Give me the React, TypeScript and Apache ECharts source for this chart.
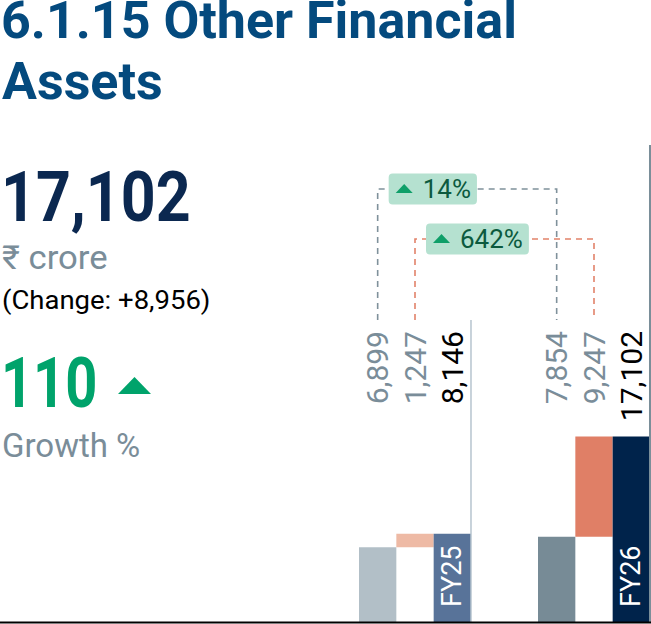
import React, { useEffect, useRef } from 'react';
import * as echarts from 'echarts';

// ---------- data ----------
const CATEGORIES = ['FY25', 'FY26'];
const PRIOR = [6899, 7854];
const CHANGE = [1247, 9247];
const TOTAL = [8146, 17102];
const PCT_LABELS = ['14%', '642%']; // growth of prior component, growth of change component
const TITLE_LINES = ['6.1.15 Other Financial', 'Assets'];
const HEADLINE_VALUE = '17,102';
const HEADLINE_UNIT = '₹ crore';
const HEADLINE_CHANGE = '(Change: +8,956)';
const GROWTH_VALUE = '110';
const GROWTH_LABEL = 'Growth %';
const Y_MAX = 44000;

// ---------- styles ----------
const PRIOR_COLORS = ['#b2bfc7', '#778b96'];
const CHANGE_COLORS = ['#eebaa5', '#e07f66'];
const TOTAL_COLORS = ['#587399', '#00234b'];
const LABEL_COLORS = ['#7a8d99', '#7a8d99', '#000000'];
const SEP_COLORS = ['#b6c4cf', '#7a8e99'];
const SEP_TOP = [320, 145];
const CONNECTOR_COLORS = ['#7f919b', '#e2826a'];
const CONNECTOR_Y = [189, 239];
const CONNECTOR_BOTTOM = 320;
const BADGE_FILL = '#b5e1d0';
const BADGE_TEXT = '#0c5a3e';
const GREEN = '#00a36b';
const NAVY = '#0b2850';
const TITLE_COLOR = '#044a7e';
const GREY = '#7a8d99';
const BAR_W = 37.33;
const LABEL_TOP = 331;
const FONT = 'Roboto, "Noto Sans", "DejaVu Sans", sans-serif';

const fmt = (v: number) => v.toLocaleString('en-US');

export default function App() {
  const ref = useRef<HTMLDivElement>(null);

  useEffect(() => {
    document.body.style.margin = '0';
    const chart = echarts.init(ref.current!, undefined, { renderer: 'svg' });

    const barData = CATEGORIES.map((_, i) => [i, PRIOR[i], CHANGE[i], TOTAL[i]]);

    const renderBars = (params: any, api: any) => {
      const i = api.value(0);
      const [cx, by] = api.coord([i, 0]);
      const p = api.value(1);
      const ch = api.value(2);
      const t = api.value(3);
      const yp = api.coord([i, p])[1];
      const yc = api.coord([i, p + ch])[1];
      const yt = api.coord([i, t])[1];
      const x0 = cx - 1.5 * BAR_W;
      const vals = [p, ch, t];
      const children: any[] = [
        { type: 'rect', shape: { x: x0, y: yp, width: BAR_W, height: by - yp }, style: { fill: PRIOR_COLORS[i] } },
        { type: 'rect', shape: { x: x0 + BAR_W, y: yc, width: BAR_W, height: yp - yc }, style: { fill: CHANGE_COLORS[i] } },
        { type: 'rect', shape: { x: x0 + 2 * BAR_W, y: yt, width: BAR_W, height: by - yt }, style: { fill: TOTAL_COLORS[i] } },
        {
          type: 'line',
          shape: { x1: x0 + 3 * BAR_W, y1: SEP_TOP[i], x2: x0 + 3 * BAR_W, y2: by },
          style: { stroke: SEP_COLORS[i], lineWidth: i === 0 ? 1.5 : 2 },
        },
        {
          type: 'text',
          x: x0 + 2.5 * BAR_W,
          y: by - 15,
          rotation: Math.PI / 2,
          style: {
            text: CATEGORIES[i],
            fill: '#ffffff',
            fontSize: 27,
            fontFamily: FONT,
            align: 'left',
            verticalAlign: 'middle',
          },
        },
      ];
      vals.forEach((v, k) => {
        children.push({
          type: 'text',
          x: x0 + (k + 0.5) * BAR_W,
          y: LABEL_TOP,
          rotation: Math.PI / 2,
          style: {
            text: fmt(v),
            fill: LABEL_COLORS[k],
            fontSize: 30,
            fontFamily: FONT,
            align: 'right',
            verticalAlign: 'middle',
          },
        });
      });
      return { type: 'group', children };
    };

    const renderConnectors = (params: any, api: any) => {
      const a = api.coord([api.value(0), 0]);
      const b = api.coord([api.value(1), 0]);
      const children: any[] = [];
      const offsets = [-BAR_W, 0]; // prior bar centre, change bar centre
      offsets.forEach((off, k) => {
        const xa = a[0] + off;
        const xb = b[0] + off;
        const y = CONNECTOR_Y[k];
        children.push({
          type: 'polyline',
          shape: { points: [[xa, CONNECTOR_BOTTOM], [xa, y], [xb, y], [xb, CONNECTOR_BOTTOM]] },
          style: { stroke: CONNECTOR_COLORS[k], lineWidth: 1.6, lineDash: [6, 5], fill: 'none' },
        });
      });
      offsets.forEach((off, k) => {
        const bx = a[0] + off + 11;
        const y = CONNECTOR_Y[k];
        children.push({
          type: 'text',
          x: bx,
          y: y,
          style: {
            text: PCT_LABELS[k],
            fill: BADGE_TEXT,
            fontSize: 26,
            fontFamily: FONT,
            lineHeight: 25,
            align: 'left',
            verticalAlign: 'middle',
            backgroundColor: BADGE_FILL,
            borderRadius: 4,
            padding: [3, 6, 3, 34],
          },
        });
        children.push({
          type: 'polygon',
          shape: { points: [[bx + 7, y + 4], [bx + 24, y + 4], [bx + 15.5, y - 5]] },
          style: { fill: '#0f9f69' },
        });
      });
      return { type: 'group', children };
    };

    const txt = (text: string, x: number, y: number, size: number, color: string, weight: string, scaleX = 1) => ({
      type: 'text',
      x,
      y,
      scaleX,
      style: {
        text,
        fill: color,
        fontSize: size,
        fontWeight: weight,
        fontFamily: FONT,
        align: 'left',
        verticalAlign: 'middle',
      },
    });

    chart.setOption({
      animation: false,
      grid: { left: 415, right: 57, top: 145, bottom: 2, containLabel: false },
      xAxis: { type: 'category', data: CATEGORIES, boundaryGap: false, show: false },
      yAxis: { type: 'value', min: 0, max: Y_MAX, show: false },
      graphic: [
        txt(TITLE_LINES[0], 1, 20, 52, TITLE_COLOR, 'bold'),
        txt(TITLE_LINES[1], 2, 81, 52, TITLE_COLOR, 'bold'),
        txt(HEADLINE_VALUE, 1, 197, 70, NAVY, 'bold', 0.87),
        txt(HEADLINE_UNIT, 2, 258, 33, GREY, 'normal', 1.05),
        txt(HEADLINE_CHANGE, 2, 300, 25, '#000000', 'normal', 1.1),
        txt(GROWTH_VALUE, 1, 383, 70, GREEN, 'bold', 0.8),
        {
          type: 'polygon',
          shape: { points: [[118, 394], [151, 394], [134.5, 377]] },
          style: { fill: GREEN },
        },
        txt(GROWTH_LABEL, 2, 445, 33, GREY, 'normal'),
        {
          type: 'line',
          z: 100,
          shape: { x1: 0, y1: 622.5, x2: 651, y2: 622.5 },
          style: { stroke: '#000000', lineWidth: 2 },
        },
      ],
      series: [
        {
          type: 'custom',
          coordinateSystem: 'cartesian2d',
          data: barData,
          encode: { x: 0, y: 3 },
          renderItem: renderBars,
          clip: false,
        },
        {
          type: 'custom',
          coordinateSystem: 'cartesian2d',
          data: [[0, 1]],
          encode: { x: [0, 1] },
          renderItem: renderConnectors,
          clip: false,
        },
      ],
    });

    return () => chart.dispose();
  }, []);

  return <div ref={ref} style={{ width: 651, height: 624 }} />;
}
